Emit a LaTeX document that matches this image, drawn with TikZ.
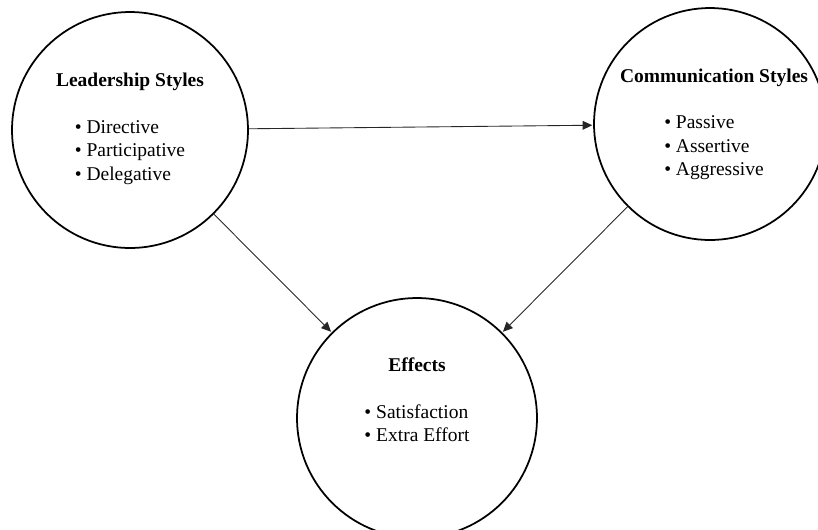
\documentclass[tikz,border=0pt]{standalone}
\usepackage{fontspec}
\setmainfont{Liberation Serif}
\usepackage{tikz}
\usetikzlibrary{positioning,arrows.meta,calc}

\begin{document}
\begin{tikzpicture}[x=0.02cm,y=-0.02cm,
    circ/.style={circle, draw=black, line width=1pt, inner sep=0pt},
    txt/.style={align=center, font=\fontsize{11.1}{13.3}\selectfont},
    link/.style={-{Triangle[length=5.5pt,width=5pt]}, black!85, line width=0.5pt, shorten >=0.5pt}]
    \useasboundingbox (0,0) rectangle (818,529);
    % three circles
    \node[circ, minimum size=4.72cm] (lead) at (130,130) {};
    \node[circ, minimum size=4.64cm] (comm) at (710,124) {};
    \node[circ, minimum size=4.8cm] (eff) at (417,418) {};
    % texts
    \node[txt] (leadtxt) at (130,130) {\textbf{Leadership Styles}\\[13.3pt]
        \begin{tabular}[t]{@{}l@{}}\textbullet\ Directive\\ \textbullet\ Participative\\ \textbullet\ Delegative\end{tabular}};
    \node[txt] (commtxt) at (714,125.5) {\textbf{Communication Styles}\\[13.3pt]
        \begin{tabular}[t]{@{}l@{}}\textbullet\ Passive\\ \textbullet\ Assertive\\ \textbullet\ Aggressive\end{tabular}};
    \node[txt] (efftxt) at (417,403) {\textbf{Effects}\\[13.3pt]
        \begin{tabular}[t]{@{}l@{}}\textbullet\ Satisfaction\\ \textbullet\ Extra Effort\end{tabular}};
    % arrows
    \foreach \a/\b in {lead/comm, lead/eff, comm/eff}
        \draw[link] (\a) -- (\b);
\end{tikzpicture}
\end{document}
